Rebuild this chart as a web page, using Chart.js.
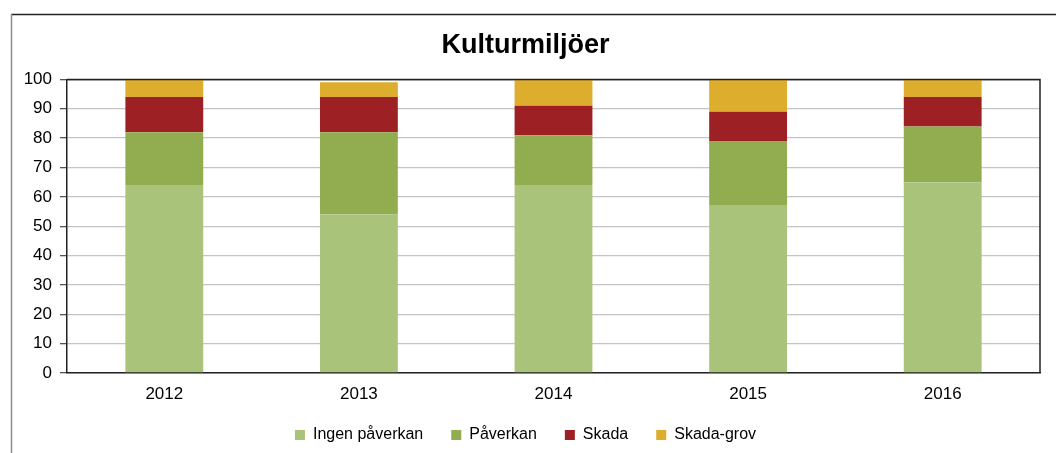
<!DOCTYPE html>
<html>
<head>
<meta charset="utf-8">
<script src="https://cdn.jsdelivr.net/npm/chart.js@4/dist/chart.umd.min.js"></script>
<style>
  html, body { margin: 0; padding: 0; background: #fff; }
  #wrap { position: relative; width: 1056px; height: 453px; }
</style>
</head>
<body>
<div id="wrap"><canvas id="c"></canvas></div>
<script>
const years = ['2012', '2013', '2014', '2015', '2016'];
const ingenPaverkan = [64, 54, 64, 57, 65];
const paverkan = [18, 28, 17, 22, 19];
const skada = [12, 12, 10, 10, 10];
const skadaGrov = [6, 5, 9, 11, 6];
const seriesNames = ['Ingen påverkan', 'Påverkan', 'Skada', 'Skada-grov'];
const yTicks = [0, 10, 20, 30, 40, 50, 60, 70, 80, 90, 100];
const titleText = 'Kulturmiljöer';

const colors = ['#A9C47A', '#92AC50', '#9D2124', '#DDAD2D'];
const FONT = "'Liberation Sans', Arial, 'DejaVu Sans', sans-serif";

const framePlugin = {
  id: 'frame',
  beforeDraw(chart) {
    const ctx = chart.ctx;
    ctx.save();
    ctx.fillStyle = '#fff';
    ctx.fillRect(0, 0, chart.width, chart.height);
    ctx.lineWidth = 1.5;
    ctx.strokeStyle = '#222';
    ctx.beginPath();
    ctx.moveTo(11, 14.5);
    ctx.lineTo(chart.width, 14.5);
    ctx.stroke();
    ctx.strokeStyle = '#8c8c8c';
    ctx.beginPath();
    ctx.moveTo(11.5, 14);
    ctx.lineTo(11.5, chart.height);
    ctx.stroke();
    ctx.restore();
  },
  afterDatasetsDraw(chart) {
    const a = chart.chartArea;
    const ctx = chart.ctx;
    ctx.save();
    ctx.strokeStyle = '#222';
    ctx.lineWidth = 1.5;
    ctx.beginPath();
    ctx.moveTo(a.left, a.top);
    ctx.lineTo(a.right, a.top);
    ctx.lineTo(a.right, a.bottom);
    ctx.stroke();
    ctx.restore();
  }
};

const seriesData = [ingenPaverkan, paverkan, skada, skadaGrov];

new Chart(document.getElementById('c'), {
  type: 'bar',
  data: {
    labels: years,
    datasets: seriesData.map((d, i) => ({
      label: seriesNames[i],
      data: d,
      backgroundColor: colors[i],
      borderWidth: 0,
      barPercentage: 0.4,
      categoryPercentage: 1.0
    }))
  },
  options: {
    responsive: true,
    maintainAspectRatio: false,
    animation: false,
    layout: { padding: { top: 14, left: 11, right: 16, bottom: 0 } },
    plugins: {
      title: {
        display: true,
        text: titleText,
        color: '#000',
        font: { family: FONT, size: 27, weight: 'bold' },
        padding: { top: 15, bottom: 18 }
      },
      legend: {
        position: 'bottom',
        labels: {
          color: '#000',
          font: { family: FONT, size: 16 },
          boxWidth: 10,
          boxHeight: 10,
          padding: 28
        }
      },
      tooltip: { enabled: false }
    },
    scales: {
      x: {
        stacked: true,
        grid: { display: false, drawTicks: false },
        border: { display: true, color: '#222', width: 1.5 },
        ticks: { color: '#000', font: { family: FONT, size: 17 }, padding: 11 },
        afterFit(scale) { scale.height = 26; }
      },
      y: {
        stacked: true,
        min: 0,
        max: 100,
        afterBuildTicks(scale) { scale.ticks = yTicks.map(v => ({ value: v })); },
        grid: {
          color: ctx => (ctx.tick && ctx.tick.value === 100 ? '#222' : '#c4c4c4'),
          lineWidth: 1.3,
          tickLength: 7,
          tickColor: '#555'
        },
        border: { display: true, color: '#222', width: 1.5 },
        ticks: { color: '#000', font: { family: FONT, size: 17 }, padding: 8 },
        afterFit(scale) { scale.width = 56; }
      }
    }
  },
  plugins: [framePlugin]
});
</script>
</body>
</html>
